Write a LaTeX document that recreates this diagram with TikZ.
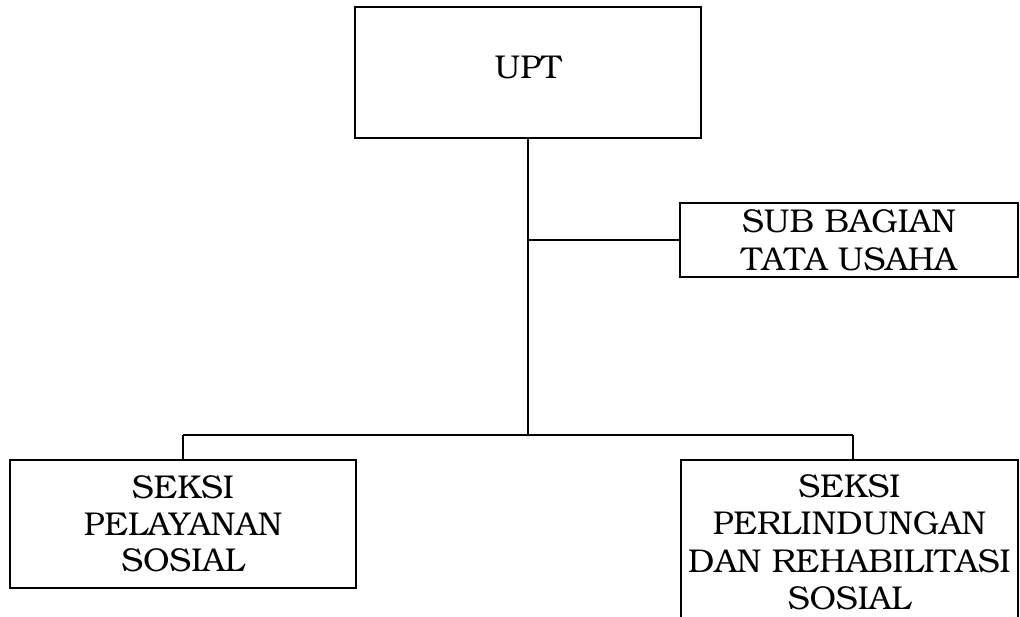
\documentclass[tikz,border=0pt]{standalone}
\usepackage[T1]{fontenc}
\usepackage{bookman}
\begin{document}
\begin{tikzpicture}[x=1pt,y=-1pt,
  unit/.style={draw=black, line width=1.4pt, inner sep=0pt, align=center,
    font=\fontsize{33}{37.5}\selectfont},
  link/.style={draw=black, line width=2.8pt}]
\useasboundingbox (0,0) rectangle (1020,616);

% boxes
\node[unit, minimum width=346pt, minimum height=131pt] (upt) at (528,72.5) {\raisebox{11pt}{UPT}};
\node[unit, minimum width=338pt, minimum height=74pt] (tu) at (849,240) {SUB BAGIAN\\TATA USAHA};
\node[unit, minimum width=346pt, minimum height=128pt] (yan) at (183,524)
  {\raisebox{3pt}{\parbox{340pt}{\centering\fontsize{33}{36.5}\selectfont SEKSI\\PELAYANAN\\SOSIAL}}};
\node[unit, minimum width=337pt, minimum height=164pt] (rehab) at (849.5,542) {SEKSI\\PERLINDUNGAN\\DAN REHABILITASI\\SOSIAL};

% connector points
\coordinate (trunk) at (528,435);
\coordinate (tap) at (528,240);
\coordinate (dropL) at (183,435);
\coordinate (dropR) at (853,435);

% connectors
\draw[link] (upt.south) -- (trunk);
\draw[link] (tap) -- (tu.west);
\draw[link] (dropL) -- (dropR);
\draw[link] (dropL) -- (dropL |- yan.north);
\draw[link] (dropR) -- (dropR |- rehab.north);
\end{tikzpicture}
\end{document}
